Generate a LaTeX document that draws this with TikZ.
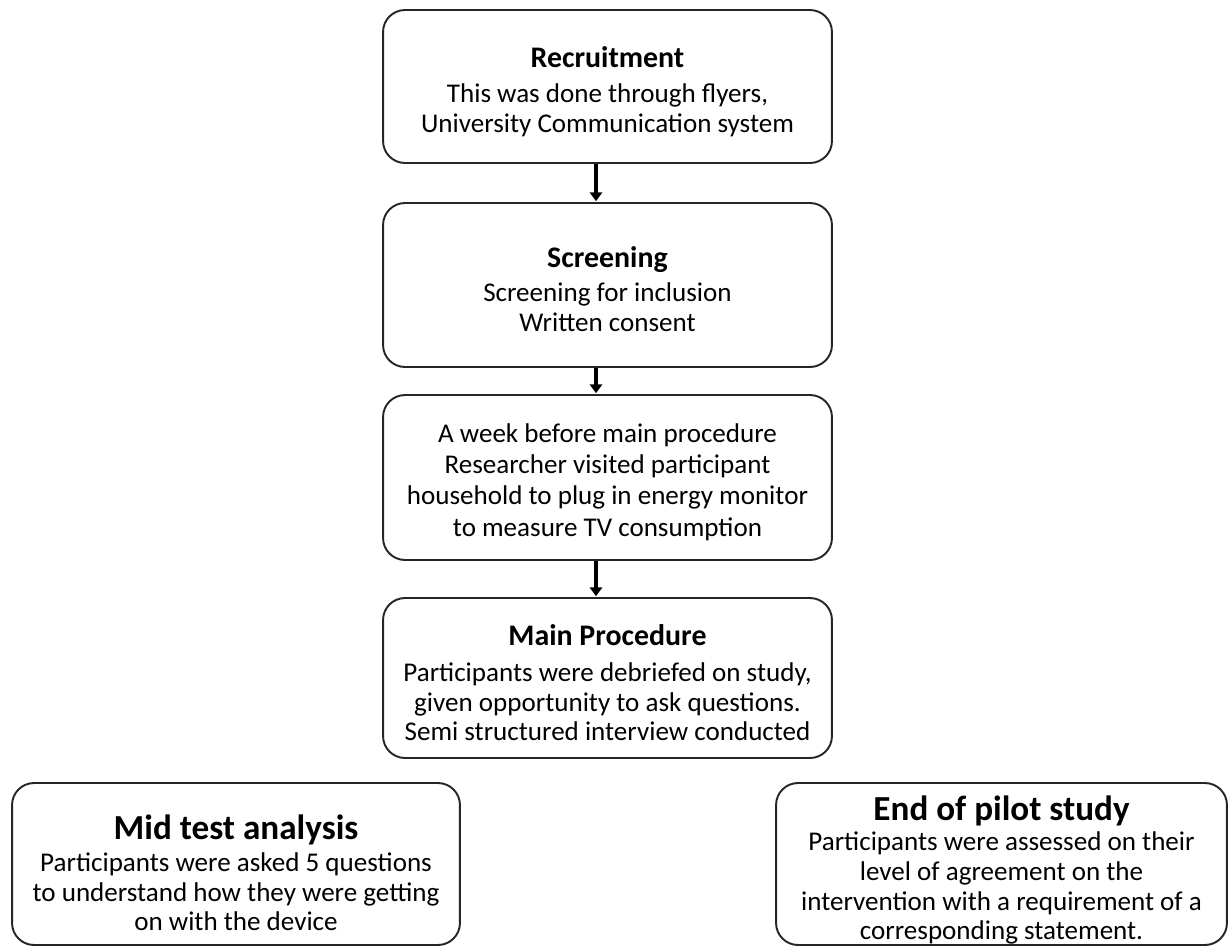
\documentclass[tikz,border=0pt]{standalone}
\usepackage{fontspec}
\setmainfont{Carlito}
\usetikzlibrary{arrows.meta}
\begin{document}
\begin{tikzpicture}[x=0.02cm,y=-0.02cm,
  stagebox/.style={draw=black!85, line width=1.1pt, rounded corners=0.44cm, inner sep=0pt},
  stagetext/.style={align=center, inner sep=0pt, font=\fontsize{15.4pt}{17pt}\selectfont},
  flowarrow/.style={line width=1.8pt, draw=black,
    -{Triangle[length=5pt,width=7pt]}, shorten >=0.5pt}
]
  \useasboundingbox (0,0) rectangle (1228,947);
  \newcommand\stagetitle[1]{{\fontsize{17pt}{17pt}\selectfont\textbf{#1}}}
  \newcommand\bigtitle[1]{{\fontsize{20pt}{20pt}\selectfont\textbf{#1}}}

  % central column of stages
  \node[stagebox, minimum width=8.98cm, minimum height=3.06cm] (rec) at (607.5,86.5) {};
  \node[stagebox, minimum width=8.98cm, minimum height=3.28cm] (scr) at (607.5,285) {};
  \node[stagebox, minimum width=8.98cm, minimum height=3.30cm] (week) at (607.5,477.5) {};
  \node[stagebox, minimum width=8.98cm, minimum height=3.20cm] (main) at (607.5,678) {};

  % the two outcome boxes at the bottom
  \node[stagebox, minimum width=8.96cm, minimum height=3.24cm] (mid) at (236,864) {};
  \node[stagebox, minimum width=9.02cm, minimum height=3.24cm] (endp) at (1001.5,864) {};

  % texts
  \node[stagetext] (recT) at ([yshift=-0.10cm]rec.center)
    {\stagetitle{Recruitment}\\[2.8pt]This was done through flyers,\\University Communication system};
  \node[stagetext] (scrT) at ([yshift=-0.08cm]scr.center)
    {\stagetitle{Screening}\\[2.5pt]Screening for inclusion\\Written consent};
  \node[stagetext, font=\fontsize{15.4pt}{17.9pt}\selectfont] (weekT) at ([yshift=-0.09cm]week.center)
    {A week before main procedure\\Researcher visited participant\\household to plug in energy monitor\\to measure TV consumption};
  \node[stagetext] (mainT) at ([yshift=-0.09cm]main.center)
    {\stagetitle{Main Procedure}\\[4pt]Participants were debriefed on study,\\given opportunity to ask questions.\\[-0.6pt]Semi structured interview conducted};
  \node[stagetext] (midT) at ([yshift=-0.18cm]mid.center)
    {\bigtitle{Mid test analysis}\\[1.1pt]Participants were asked 5 questions\\to understand how they were getting\\[-0.6pt]on with the device};
  \node[stagetext] (endT) at ([yshift=-0.12cm]endp.center)
    {\bigtitle{End of pilot study}\\Participants were assessed on their\\level of agreement on the\\intervention with a requirement of a\\[-0.6pt]corresponding statement.};

  % connectors
  \draw[flowarrow] ([xshift=-0.23cm]rec.south) -- ([xshift=-0.23cm]scr.north);
  \draw[flowarrow] ([xshift=-0.23cm]scr.south) -- ([xshift=-0.23cm]week.north);
  \draw[flowarrow] ([xshift=-0.23cm]week.south) -- ([xshift=-0.23cm]main.north);
\end{tikzpicture}
\end{document}
